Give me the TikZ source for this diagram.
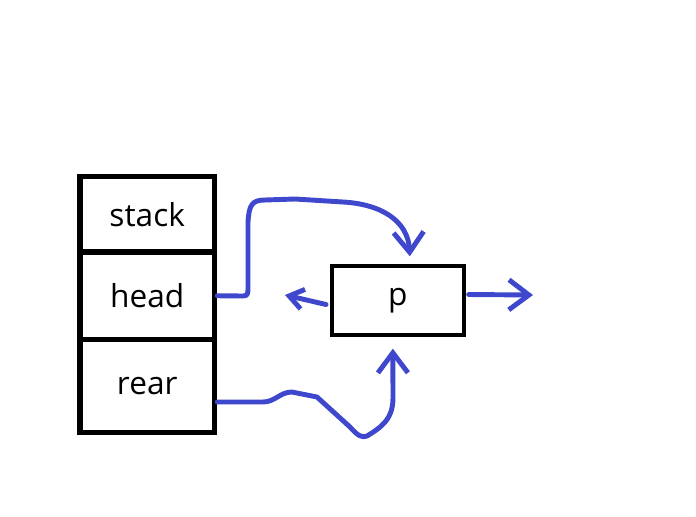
\documentclass[tikz,border=0pt]{standalone}
\usepackage{fontspec}
\setmainfont{Open Sans}
\usetikzlibrary{arrows.meta, calc}
\definecolor{penblue}{HTML}{3F48CC}
\newcommand{\cellbox}[4]{%
  \node[draw=black, line width=4pt, minimum width=3.36cm,
        minimum height=#3cm, inner sep=0pt] (#1) at (147.25,#2) {#4};}

\begin{document}
\begin{tikzpicture}[x=0.025cm, y=-0.025cm, font=\fontsize{22.5}{27}\selectfont,
    pen/.style={penblue, line width=3.5pt, line cap=round, line join=round,
                -{Straight Barb[length=0.5cm, width=0.75cm]}}]
  \useasboundingbox (0,0) rectangle (696,516);
  \cellbox{stack}{214.25}{1.89}{stack}
  \cellbox{head}{295.75}{2.19}{head}
  \cellbox{rear}{386}{2.33}{rear}
  \node[draw=black, line width=2.85pt, minimum width=3.29cm,
        minimum height=1.71cm, inner sep=0pt] (p) at (397.85,300.5) {p};
  \coordinate (prev) at (285,295);
  \coordinate (next) at (533,295);
  % pointers
  \draw[pen] (head.east) -- (243,296) .. controls (248,296) and (248,293) .. (248,288)
    -- (248,222) .. controls (249,205) and (252,200) .. (265,200) -- (295,199)
    -- (343,202) .. controls (380,204) and (408,220) .. ($(p.north)+(12,-8)$);
  \draw[pen] ($(rear.east)+(0,16)$) -- (263,402) .. controls (275,402) and (280,392) .. (292,392)
    -- (317,397) -- (350,427) .. controls (358,436) and (362,438) .. (367,436)
    .. controls (380,428) and (393,420) .. (393,398) -- ($(p.south)+(-5,12)$);
  \draw[pen, -{Straight Barb[length=0.35cm, width=0.5cm]}] ($(p.west)+(-4,4)$) -- (prev);
  \draw[pen] ($(p.east)+(3,-6)$) -- (next);
\end{tikzpicture}
\end{document}
